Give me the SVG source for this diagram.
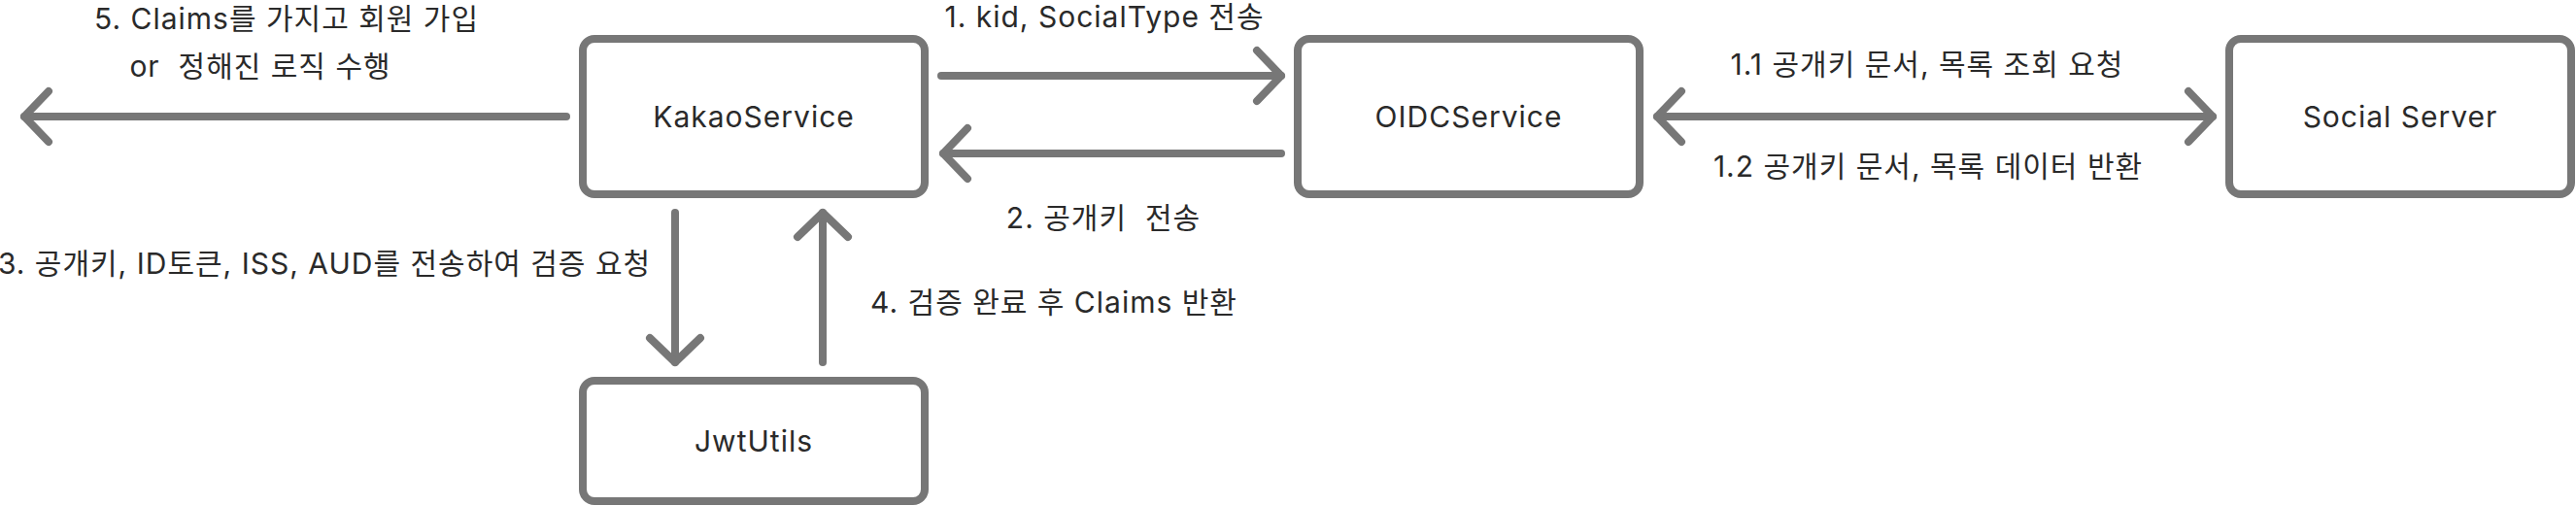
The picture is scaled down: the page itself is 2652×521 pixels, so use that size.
<svg xmlns="http://www.w3.org/2000/svg" width="2652" height="521" viewBox="0 0 2652 521">
  <style>
    .node rect { fill: #ffffff; stroke: #777777; stroke-width: 8; }
    .node text, .label { font-family: Inter, "Noto Sans CJK KR", sans-serif; font-size: 30px; letter-spacing: 1px; fill: #2a2a2a; text-anchor: middle; white-space: pre; }
    .edge { fill: none; stroke: #777777; stroke-width: 8; stroke-linecap: round; }
  </style>
  <defs>
    <marker id="chev" viewBox="-40 -40 80 80" markerUnits="userSpaceOnUse" markerWidth="80" markerHeight="80" refX="0" refY="0" orient="auto-start-reverse" overflow="visible">
      <path d="M-25,-26 L0,0 L-25,26" fill="none" stroke="#777777" stroke-width="8" stroke-linecap="round" stroke-linejoin="round"/>
    </marker>
  </defs>
  <rect width="2652" height="521" fill="#ffffff"/>

  <g id="connectors">
    <path class="edge" d="M583,120 L25,120" marker-end="url(#chev)"/>
    <path class="edge" d="M969,78 L1319,78" marker-end="url(#chev)"/>
    <path class="edge" d="M1319,158 L971,158" marker-end="url(#chev)"/>
    <path class="edge" d="M1706,120 L2278,120" marker-start="url(#chev)" marker-end="url(#chev)"/>
    <path class="edge" d="M695,219 L695,373" marker-end="url(#chev)"/>
    <path class="edge" d="M847,373 L847,219" marker-end="url(#chev)"/>
  </g>

  <g id="labels">
    <text class="label" x="295" y="30">5. Claims를 가지고 회원 가입</text>
    <text class="label" x="268" y="79">or  정해진 로직 수행</text>
    <text class="label" x="1137" y="28">1. kid, SocialType 전송</text>
    <text class="label" x="1136" y="235">2. 공개키  전송</text>
    <text class="label" x="1984" y="77">1.1 공개키 문서, 목록 조회 요청</text>
    <text class="label" x="1985" y="182">1.2 공개키 문서, 목록 데이터 반환</text>
    <text class="label" x="334" y="282">3. 공개키, ID토큰, ISS, AUD를 전송하여 검증 요청</text>
    <text class="label" x="1085" y="322">4. 검증 완료 후 Claims 반환</text>
  </g>

  <g id="kakao" class="node">
    <rect x="600" y="40" width="352" height="160" rx="12"/>
    <text x="776" y="131">KakaoService</text>
  </g>
  <g id="oidc" class="node">
    <rect x="1336" y="40" width="352" height="160" rx="12"/>
    <text x="1512" y="131">OIDCService</text>
  </g>
  <g id="social" class="node">
    <rect x="2295" y="40" width="352" height="160" rx="12"/>
    <text x="2471" y="131">Social Server</text>
  </g>
  <g id="jwt" class="node">
    <rect x="600" y="392" width="352" height="124" rx="12"/>
    <text x="776" y="465">JwtUtils</text>
  </g>
</svg>
